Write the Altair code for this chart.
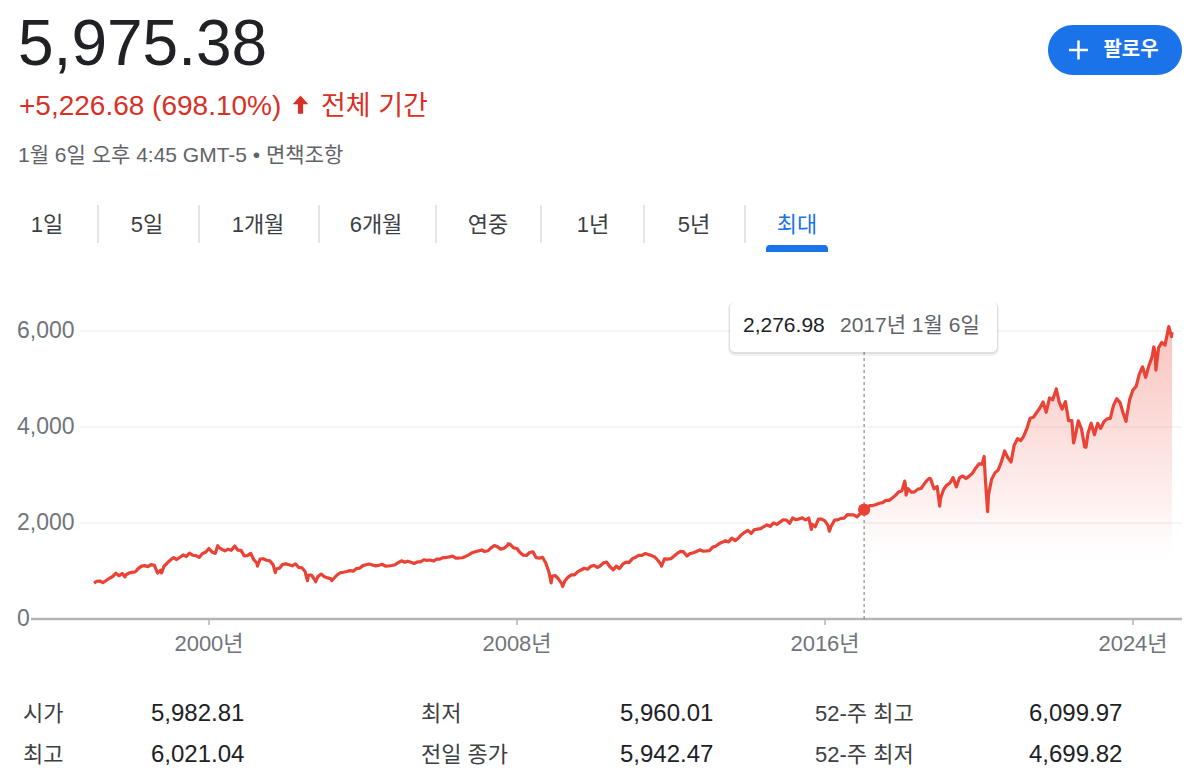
import altair as alt
import pandas as pd

# ---------------- data ----------------
years = list(range(1997, 2025))
y1997 = [786.16, 790.82, 757.12, 801.34, 848.28, 885.14, 954.31, 899.47, 947.28, 914.62, 955.40, 970.43]
y1998 = [980.28, 1049.34, 1101.75, 1111.75, 1090.82, 1133.84, 1120.67, 957.28, 1017.01, 1098.67, 1163.63, 1229.23]
y1999 = [1279.64, 1238.33, 1286.37, 1335.18, 1301.84, 1372.71, 1328.72, 1320.41, 1282.71, 1362.93, 1388.91, 1469.25]
y2000 = [1394.46, 1366.42, 1498.58, 1452.43, 1420.60, 1454.60, 1430.83, 1517.68, 1436.51, 1429.40, 1314.95, 1320.28]
y2001 = [1366.01, 1239.94, 1160.33, 1249.46, 1255.82, 1224.42, 1211.23, 1133.58, 1040.94, 1059.78, 1139.45, 1148.08]
y2002 = [1130.20, 1106.73, 1147.39, 1076.92, 1067.14, 989.82, 911.62, 916.07, 815.28, 885.76, 936.31, 879.82]
y2003 = [855.70, 841.15, 848.18, 916.92, 963.59, 974.50, 990.31, 1008.01, 995.97, 1050.71, 1058.20, 1111.92]
y2004 = [1131.13, 1144.94, 1126.21, 1107.30, 1120.68, 1140.84, 1101.72, 1104.24, 1114.58, 1130.20, 1173.82, 1211.92]
y2005 = [1181.27, 1203.60, 1180.59, 1156.85, 1191.50, 1191.33, 1234.18, 1220.33, 1228.81, 1207.01, 1249.48, 1248.29]
y2006 = [1280.08, 1280.66, 1294.83, 1310.61, 1270.09, 1270.20, 1276.66, 1303.82, 1335.85, 1377.94, 1400.63, 1418.30]
y2007 = [1438.24, 1406.82, 1420.86, 1482.37, 1530.62, 1503.35, 1455.27, 1473.99, 1526.75, 1549.38, 1481.14, 1468.36]
y2008 = [1378.55, 1330.63, 1322.70, 1385.59, 1400.38, 1280.00, 1267.38, 1282.83, 1166.36, 968.75, 896.24, 903.25]
y2009 = [825.88, 735.09, 797.87, 872.81, 919.14, 919.32, 987.48, 1020.62, 1057.08, 1036.19, 1095.63, 1115.10]
y2010 = [1073.87, 1104.49, 1169.43, 1186.69, 1089.41, 1030.71, 1101.60, 1049.33, 1141.20, 1183.26, 1180.55, 1257.64]
y2011 = [1286.12, 1327.22, 1325.83, 1363.61, 1345.20, 1320.64, 1292.28, 1218.89, 1131.42, 1253.30, 1246.96, 1257.60]
y2012 = [1312.41, 1365.68, 1408.47, 1397.91, 1310.33, 1362.16, 1379.32, 1406.58, 1440.67, 1412.16, 1416.18, 1426.19]
y2013 = [1498.11, 1514.68, 1569.19, 1597.57, 1630.74, 1606.28, 1685.73, 1632.97, 1681.55, 1756.54, 1805.81, 1848.36]
y2014 = [1782.59, 1859.45, 1872.34, 1883.95, 1923.57, 1960.23, 1930.67, 2003.37, 1972.29, 2018.05, 2067.56, 2058.90]
y2015 = [1994.99, 2104.50, 2067.89, 2085.51, 2107.39, 2063.11, 2103.84, 1972.18, 1920.03, 2079.36, 2080.41, 2043.94]
y2016 = [1940.24, 1932.23, 2059.74, 2065.30, 2096.95, 2098.86, 2173.60, 2170.95, 2168.27, 2126.15, 2198.81, 2238.83]
y2017 = [2278.87, 2363.64, 2362.72, 2384.20, 2411.80, 2423.41, 2470.30, 2471.65, 2519.36, 2575.26, 2647.58, 2673.61]
y2018 = [2823.81, 2713.83, 2640.87, 2648.05, 2705.27, 2718.37, 2816.29, 2901.52, 2913.98, 2711.74, 2760.17, 2506.85]
y2019 = [2704.10, 2784.49, 2834.40, 2945.83, 2752.06, 2941.76, 2980.38, 2926.46, 2976.74, 3037.56, 3140.98, 3230.78]
y2020 = [3225.52, 2954.22, 2584.59, 2912.43, 3044.31, 3100.29, 3271.12, 3500.31, 3363.00, 3269.96, 3621.63, 3756.07]
y2021 = [3714.24, 3811.15, 3972.89, 4181.17, 4204.11, 4297.50, 4395.26, 4522.68, 4307.54, 4605.38, 4567.00, 4766.18]
y2022 = [4515.55, 4373.94, 4530.41, 4131.93, 4132.15, 3785.38, 4130.29, 3955.00, 3585.62, 3871.98, 4080.11, 3839.50]
y2023 = [4076.60, 3970.15, 4109.31, 4169.48, 4179.83, 4450.38, 4588.96, 4507.66, 4288.05, 4193.80, 4567.80, 4769.83]
y2024 = [4845.65, 5096.27, 5254.35, 5035.69, 5277.51, 5460.48, 5522.30, 5648.40, 5762.48, 5705.45, 6032.38, 5881.63]
monthly = [y1997, y1998, y1999, y2000, y2001, y2002, y2003, y2004, y2005, y2006,
           y2007, y2008, y2009, y2010, y2011, y2012, y2013, y2014, y2015, y2016,
           y2017, y2018, y2019, y2020, y2021, y2022, y2023, y2024]

extreme_dates = ["1997-01-06", "1997-10-27", "1998-10-08", "2000-03-24", "2000-09-01",
                 "2001-04-04", "2001-09-21", "2002-07-23", "2002-10-09", "2003-03-11",
                 "2007-10-09", "2008-11-20", "2009-03-09", "2010-07-02", "2011-10-03",
                 "2015-08-25", "2016-02-11", "2017-01-06", "2018-01-26", "2018-02-08",
                 "2018-09-20", "2018-12-24", "2020-02-19", "2020-03-23", "2022-01-03",
                 "2022-06-16", "2022-10-12", "2023-10-27", "2024-07-16", "2024-08-05",
                 "2024-12-06", "2025-01-06"]
extreme_values = [748.70, 876.99, 959.44, 1527.46, 1520.77,
                  1103.25, 965.80, 797.70, 776.76, 800.73,
                  1565.15, 752.44, 676.53, 1022.58, 1099.23,
                  1867.61, 1829.08, 2276.98, 2872.87, 2581.00,
                  2930.75, 2351.10, 3386.15, 2237.40, 4796.56,
                  3666.77, 3577.03, 4117.37, 5667.20, 5186.33,
                  6090.27, 5975.38]

grid_values = [2000, 4000, 6000]
ytick_values = [0, 2000, 4000, 6000]
ytick_labels = ["0", "2,000", "4,000", "6,000"]
xtick_dates = ["2000-01-01", "2008-01-01", "2016-01-01", "2024-01-01"]
xtick_labels = ["2000년", "2008년", "2016년", "2024년"]

price_text = "5,975.38"
change_text = "+5,226.68 (698.10%)"
period_text = "전체 기간"
time_text = "1월 6일 오후 4:45 GMT-5 • 면책조항"
tab_labels = ["1일", "5일", "1개월", "6개월", "연중", "1년", "5년", "최대"]
follow_text = "팔로우"
hover_date = "2017-01-06"
hover_value = 2276.98
hover_value_text = "2,276.98"
hover_date_text = "2017년 1월 6일"
stat_labels_1 = ["시가", "최저", "52-주 최고"]
stat_values_1 = ["5,982.81", "5,960.01", "6,099.97"]
stat_labels_2 = ["최고", "전일 종가", "52-주 최저"]
stat_values_2 = ["6,021.04", "5,942.47", "4,699.82"]

# ---------------- tables ----------------
rows = []
for yr, vals in zip(years, monthly):
    for m, v in enumerate(vals, start=1):
        d = (pd.Timestamp(year=yr, month=m, day=1) + pd.offsets.MonthEnd(0)).strftime("%Y-%m-%d")
        rows.append((d, v))
rows += list(zip(extreme_dates, extreme_values))
df = pd.DataFrame(rows, columns=["date", "value"]).drop_duplicates("date").sort_values("date")
df_area = df[df["date"] >= hover_date]

# ---------------- layout / style ----------------
FONT = "Liberation Sans, Arial, Noto Sans CJK KR, sans-serif"
RED_LINE = "#ea4335"
RED_TEXT = "#d93025"
BLUE = "#1a73e8"
OFF = 8
W, H = 1184, 764


def ms(s):
    return int(pd.Timestamp(s, tz="UTC").value // 10**6)


t0, t1 = ms("2000-01-01"), ms("2024-01-01")
vx0, vx1 = 209 - OFF, 1133 - OFF
mpp = (t1 - t0) / (vx1 - vx0)
xdom = [int(t0 - vx0 * mpp), int(t0 + (W - vx0) * mpp)]
vy_zero = 619 - OFF
upp = 6000 / (619 - 331)
ydom = [-(H - vy_zero) * upp, vy_zero * upp]

XS = alt.Scale(domain=xdom, nice=False)
YS = alt.Scale(domain=ydom, nice=False, zero=False)


def X(f="date:T"):
    return alt.X(f, scale=XS, axis=None)


def Y(f="value:Q"):
    return alt.Y(f, scale=YS, axis=None)


def one():
    return pd.DataFrame({"k": [0]})


def txt(s, x, y, size, color, align="left", baseline="middle", weight="normal"):
    return alt.Chart(pd.DataFrame({"t": [s]})).mark_text(
        align=align, baseline=baseline, fontSize=size, font=FONT, color=color, fontWeight=weight
    ).encode(text="t:N", x=alt.value(x), y=alt.value(y))


def box(x, x2, y, y2, color, opacity=1.0, radius=0, **kw):
    return alt.Chart(one()).mark_rect(color=color, opacity=opacity, cornerRadius=radius, **kw).encode(
        x=alt.value(x), x2=alt.value(x2), y=alt.value(y), y2=alt.value(y2))


layers = []

# grid + baseline
layers.append(alt.Chart(pd.DataFrame({"v": grid_values})).mark_rule(color="#ececec", strokeWidth=1).encode(
    y=Y("v:Q"), x=alt.value(80 - OFF), x2=alt.value(1182 - OFF)))
layers.append(alt.Chart(pd.DataFrame({"v": [0]})).mark_rule(color="#b5b5b5", strokeWidth=2.5).encode(
    y=Y("v:Q"), x=alt.value(31 - OFF), x2=alt.value(1182 - OFF)))
xt = pd.DataFrame({"date": xtick_dates, "lab": xtick_labels})
layers.append(alt.Chart(xt).mark_rule(color="#b5b5b5", strokeWidth=1.5).encode(
    x=X(), y=alt.value(vy_zero), y2=alt.value(vy_zero + 6)))
layers.append(alt.Chart(xt).mark_text(font=FONT, fontSize=22, color="#70757a", align="center", baseline="middle").encode(
    x=X(), y=alt.value(644 - OFF), text="lab:N"))
yt = pd.DataFrame({"v": ytick_values, "lab": ytick_labels})
layers.append(alt.Chart(yt).mark_text(font=FONT, fontSize=23, color="#70757a", align="left", baseline="middle").encode(
    y=Y("v:Q"), x=alt.value(17 - OFF), text="lab:N"))

# area + line
grad = alt.Gradient(gradient="linear",
                    stops=[alt.GradientStop(color="rgba(234,67,53,0.32)", offset=0),
                           alt.GradientStop(color="rgba(234,67,53,0)", offset=0.78)],
                    x1=0, x2=0, y1=0, y2=1)
layers.append(alt.Chart(df_area).mark_area(color=grad).encode(x=X(), y=Y(), y2=alt.datum(0)))
layers.append(alt.Chart(df).mark_line(color=RED_LINE, strokeWidth=3.2, strokeJoin="round").encode(x=X(), y=Y()))

# hover marker
hv = pd.DataFrame({"date": [hover_date], "value": [hover_value]})
layers.append(alt.Chart(hv).mark_rule(color="#70757a", strokeWidth=1, strokeDash=[3, 3]).encode(
    x=X(), y=alt.value(352 - OFF), y2=alt.value(vy_zero)))
layers.append(alt.Chart(hv).mark_circle(color=RED_LINE, size=150, opacity=1).encode(x=X(), y=Y()))

# tooltip
layers.append(box(730 - OFF - 2, 997 - OFF + 2, 302 - OFF, 352 - OFF + 4, "#000", 0.05, 7))
layers.append(box(730 - OFF - 1, 997 - OFF + 1, 302 - OFF, 352 - OFF + 2, "#000", 0.08, 6))
layers.append(box(730 - OFF, 997 - OFF, 302 - OFF, 352 - OFF, "#ffffff", 1, 5))
layers.append(txt(hover_value_text, 743 - OFF, 326 - OFF, 21, "#202124"))
layers.append(txt(hover_date_text, 840 - OFF, 326 - OFF, 21, "#5f6368"))

# header
layers.append(txt(price_text, 18 - OFF, 65 - OFF, 64, "#202124", baseline="alphabetic"))
layers.append(txt(change_text, 19 - OFF, 115 - OFF, 28, RED_TEXT, baseline="alphabetic"))
arrow = "M0,-1.1L0.9,-0.1L0.3,-0.1L0.3,1L-0.3,1L-0.3,-0.1L-0.9,-0.1Z"
layers.append(alt.Chart(one()).mark_point(shape=arrow, filled=True, color=RED_TEXT, size=300, opacity=1).encode(
    x=alt.value(300.5 - OFF), y=alt.value(105 - OFF)))
layers.append(txt(period_text, 321 - OFF, 115 - OFF, 27, RED_TEXT, baseline="alphabetic"))
layers.append(txt(time_text, 18 - OFF, 162 - OFF, 21, "#5f6368", baseline="alphabetic"))

# tabs
tab_cx = [47, 147, 258, 376, 488, 593, 694, 797]
for lab, cx in zip(tab_labels, tab_cx):
    col = BLUE if lab == "최대" else "#3c4043"
    layers.append(txt(lab, cx - OFF, 225 - OFF, 22, col, align="center"))
sep_x = [98, 199, 319, 436, 541, 644, 745]
layers.append(alt.Chart(pd.DataFrame({"sx": [s - OFF for s in sep_x]})).mark_rule(color="#dadce0", strokeWidth=1.5).encode(
    x=alt.X("sx:Q", scale=None), y=alt.value(205 - OFF), y2=alt.value(243 - OFF)))
layers.append(box(766 - OFF, 828 - OFF, 245 - OFF, 252 - OFF, BLUE, 1, 0,
                  cornerRadiusTopLeft=4, cornerRadiusTopRight=4))

# follow button
layers.append(box(1048 - OFF, 1182 - OFF, 25 - OFF, 75 - OFF, BLUE, 1, 25))
layers.append(alt.Chart(one()).mark_rule(color="white", strokeWidth=2.5).encode(
    x=alt.value(1069 - OFF), x2=alt.value(1088 - OFF), y=alt.value(50 - OFF)))
layers.append(alt.Chart(one()).mark_rule(color="white", strokeWidth=2.5).encode(
    x=alt.value(1078.5 - OFF), y=alt.value(40.5 - OFF), y2=alt.value(59.5 - OFF)))
layers.append(txt(follow_text, 1131 - OFF, 50 - OFF, 20, "white", align="center", weight="bold"))

# stats
lab_x = [23, 421, 815]
val_x = [151, 620, 1029]
for row_y, labs, vals in [(714, stat_labels_1, stat_values_1), (755, stat_labels_2, stat_values_2)]:
    for lab, v, lx, vx in zip(labs, vals, lab_x, val_x):
        layers.append(txt(lab, lx - OFF, row_y - OFF, 22, "#3c4043"))
        layers.append(txt(v, vx - OFF, row_y - OFF, 24, "#202124"))

chart = alt.layer(*layers).properties(
    width=W, height=H, autosize=alt.AutoSizeParams(type="none"), padding=0, background="white"
).configure_view(stroke=None)

chart.save("out.html", embed_options={"renderer": "svg", "actions": False})
